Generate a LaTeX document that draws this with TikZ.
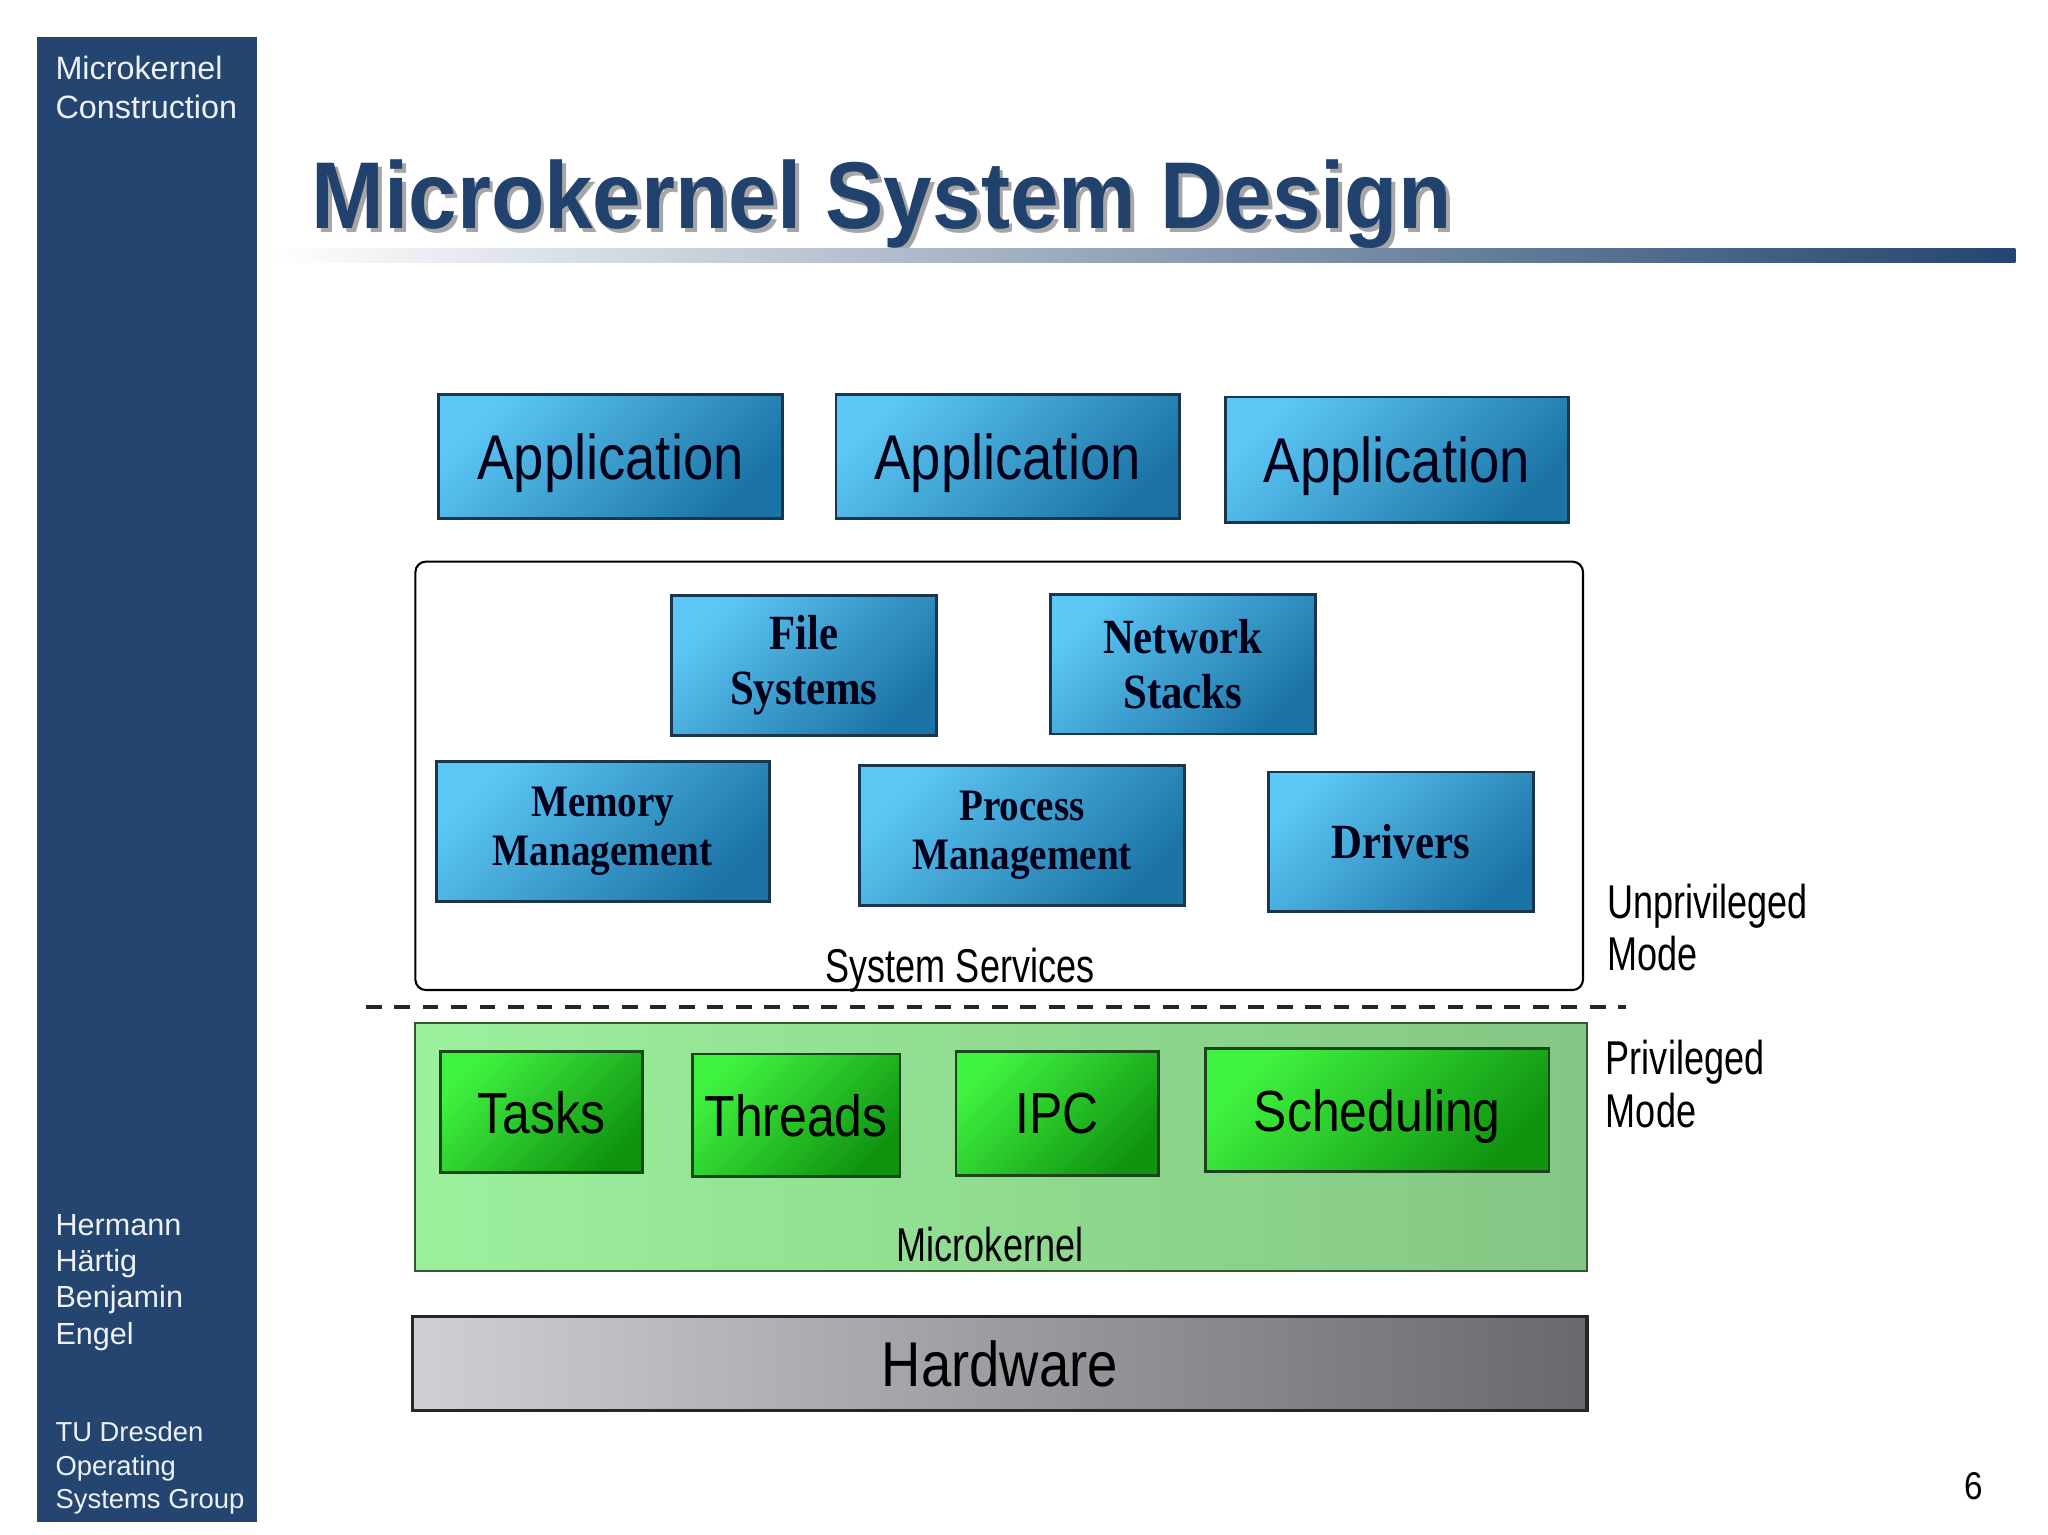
\documentclass[tikz,border=0pt]{standalone}
\usepackage{fontspec}
\setmainfont{Liberation Sans}
\newfontfamily\narrowsans[FakeStretch=0.86]{Liberation Sans}
\newfontfamily\labelsans[FakeStretch=0.76]{Liberation Sans}
\newfontfamily\titlesans[FakeStretch=0.92]{Liberation Sans}
\newfontfamily\boxserif[FakeStretch=0.87]{Liberation Serif}
\definecolor{sidebarblue}{HTML}{23456F}
\definecolor{titleblue}{HTML}{21426D}
\definecolor{bluetop}{HTML}{5CC6F4}
\definecolor{bluebot}{HTML}{1C74A6}
\definecolor{blueedge}{HTML}{1A3550}
\definecolor{greentop}{HTML}{40F240}
\definecolor{greenbot}{HTML}{109410}
\definecolor{greenedge}{HTML}{1B451B}
\definecolor{kernleft}{HTML}{9CF09C}
\definecolor{kernright}{HTML}{84C684}
\definecolor{kernedge}{HTML}{2E5A2E}
\definecolor{hwleft}{HTML}{D0D0D4}
\definecolor{hwright}{HTML}{69696D}
\newcommand{\pxu}{0.01306cm}

\tikzset{
  sized/.style 2 args={minimum width=#1*\pxu, minimum height=#2*\pxu},
  appbox/.style={draw=blueedge, line width=0.8pt, top color=bluetop, bottom color=bluebot,
    shading angle=45, inner sep=0pt, text depth=0pt, text=black!90!blue,
    font=\narrowsans\fontsize{18}{20}\selectfont},
  servbox/.style={appbox, align=center, text depth=, font=\boxserif\bfseries\fontsize{14}{15.6}\selectfont},
  smallserv/.style={servbox, font=\boxserif\bfseries\fontsize{12.8}{14.1}\selectfont},
  kernbox/.style={draw=greenedge, line width=0.8pt, top color=greentop, bottom color=greenbot,
    shading angle=45, inner sep=0pt, text depth=0pt, font=\narrowsans\fontsize{16.5}{18}\selectfont},
  modelabel/.style={anchor=base west, align=left, inner sep=0pt, font=\labelsans\fontsize{13.5}{14.9}\selectfont},
  framelabel/.style={anchor=base, inner sep=0pt, font=\labelsans\fontsize{13.5}{15}\selectfont},
  sidetext/.style={anchor=base west, align=left, inner sep=0pt, text=white!92!sidebarblue},
}

\begin{document}
\begin{tikzpicture}[x=\pxu, y=-\pxu]
  \fill[white] (0,0) rectangle (1568,1175);
  \useasboundingbox (0,0) rectangle (1568,1175);
  % sidebar (base = last line)
  \fill[sidebarblue] (28,28) rectangle (197,1165);
  \node (course) [sidetext, font=\fontsize{9.2}{11.1}\selectfont] at (42,91) {Microkernel\\Construction};
  \node (authors) [sidetext, font=\fontsize{8.7}{10.3}\selectfont] at (42,1029) {Hermann\\Härtig\\Benjamin\\Engel};
  \node (group) [sidetext, font=\fontsize{7.8}{9.5}\selectfont] at (42,1155) {TU Dresden\\Operating\\Systems Group};
  % title
  \node (titleshadow) [anchor=base, inner sep=0pt, text=black!35, font=\titlesans\bfseries\fontsize{27}{30}\selectfont]
    at (678,178) {Microkernel System Design};
  \node (title) [anchor=base, inner sep=0pt, text=titleblue, font=\titlesans\bfseries\fontsize{27}{30}\selectfont]
    at (675,175) {Microkernel System Design};
  \shade[left color=white, right color=sidebarblue] (205,190) rectangle (1543,201);
  % applications
  \node (app1) [appbox, sized={263}{95}] at (467.5,349.5) {Application};
  \node (app2) [appbox, sized={263}{95}] at (771.5,349.5) {Application};
  \node (app3) [appbox, sized={263}{96}] at (1069.5,352) {Application};
  % system services
  \node (services) [draw, line width=0.6pt, rounded corners=3pt, sized={894}{328}] at (765,594) {};
  \node (fs) [servbox, sized={203}{107}] at (615.5,509.5) {File\\Systems};
  \node (net) [servbox, sized={203}{107}] at (905.5,508.5) {Network\\Stacks};
  \node (mem) [smallserv, sized={255}{107}] at (461.5,636.5) {Memory\\Management};
  \node (proc) [smallserv, sized={249}{107}] at (782.5,639.5) {Process\\Management};
  \node (drv) [servbox, sized={203}{107}] at (1072.5,644.5) {Drivers};
  \node (servlabel) [framelabel] at (735,752) {System Services};
  % mode border
  \coordinate (dashL) at (280,771);
  \coordinate (dashR) at (1245,771);
  \draw[black!85, line width=1.3pt, dash pattern=on 4.5pt off 3.6pt] (dashL) -- (dashR);
  \node (unpriv) [modelabel] at (1230,743) {Unprivileged\\Mode};
  \node (priv) [modelabel] at (1229,863) {Privileged\\Mode};
  % microkernel
  \node (kernel) [draw=kernedge, line width=0.6pt, left color=kernleft, right color=kernright, sized={897}{190}] at (766.5,878) {};
  \node (tasks) [kernbox, sized={155}{93}] at (414.5,851.5) {Tasks};
  \node (threads) [kernbox, sized={159}{94}] at (609.5,854) {Threads};
  \node (ipc) [kernbox, sized={155}{95}] at (809.5,852.5) {IPC};
  \node (sched) [kernbox, sized={263}{94}] at (1054.5,850) {Scheduling};
  \node (kernlabel) [framelabel] at (758,966) {Microkernel};
  % hardware
  \node (hw) [draw=black!85, line width=0.9pt, left color=hwleft, right color=hwright, sized={899}{72},
    font=\narrowsans\fontsize{18}{20}\selectfont] at (765.5,1044) {Hardware};
  % page number
  \node (page) [font=\narrowsans\fontsize{11}{13}\selectfont] at (1511,1138) {6};
\end{tikzpicture}
\end{document}
